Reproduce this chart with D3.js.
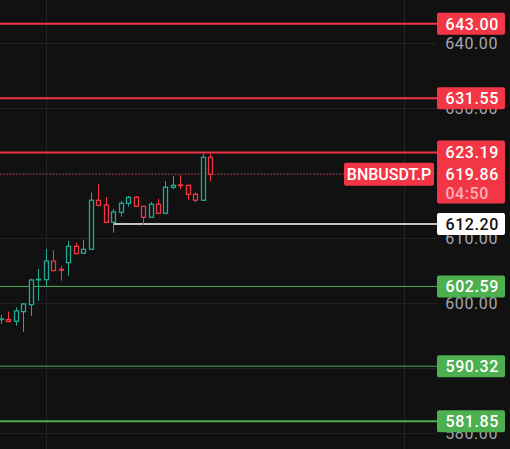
<!DOCTYPE html>
<html>
<head>
<meta charset="utf-8">
<script src="https://cdn.jsdelivr.net/npm/d3@7/dist/d3.min.js"></script>
<style>
html,body{margin:0;padding:0;background:#111111;}
svg{display:block;}
text{font-family:Roboto,"Noto Sans",sans-serif;}
</style>
</head>
<body>
<script>
// ---- data ----
const opens  = [597.5,597.5,597.23,598.71,599.78,603.6,603.63,606.5,605.2,606.25,608.77,607.7,608.31,615.85,615.12,612.46,614.0,615.38,616.31,614.92,613.23,615.23,613.85,617.85,618.2,618.15,616.77,615.85,622.46];
const highs  = [598.2,598.7,599.38,600.05,603.78,605.28,608.35,608.2,605.74,609.58,609.28,609.78,617.02,618.35,616.35,614.51,615.74,616.51,616.51,614.95,615.58,616.05,618.82,619.58,619.69,618.2,617.08,623.0,623.19];
const lows   = [596.8,597.1,596.55,595.6,598.05,600.35,602.55,605.0,603.48,604.25,607.54,607.54,608.3,614.92,612.31,610.86,613.32,614.86,614.9,612.09,613.2,613.8,613.8,617.54,617.54,615.85,615.54,615.8,618.77];
const closes = [597.6,597.2,598.82,599.89,603.58,603.7,606.5,605.02,605.1,608.77,607.63,608.3,615.85,615.08,612.46,614.05,615.38,616.31,614.92,613.23,615.23,613.85,617.85,618.15,618.1,616.77,615.85,622.46,619.86];

const axisTicks = [580,590,600,610,620,630,640];
const redLevels = [643.00,631.55,623.19];
const greenLevels = [602.59,590.32,581.85];
const supportLevel = 612.20;
const lastPrice = 619.86;
const symbol = "BNBUSDT.P";
const countdown = "04:50";

// ---- layout ----
const W = 510, H = 449, plotW = 437;
const BG = "#111111", UP = "#22ab94", DOWN = "#f23645", GREEN = "#4caf50";

const svg = d3.select("body").append("svg").attr("width", W).attr("height", H);
svg.append("rect").attr("width", W).attr("height", H).attr("fill", BG);

const y = d3.scaleLinear().domain([577.58, 646.66]).range([H, 0]);
const x = d3.scaleLinear().domain([0, closes.length - 1]).range([1, 210.3]);

// grid
const g = svg.append("g");
g.selectAll("line.hg").data(axisTicks).join("line")
  .attr("x1", 0).attr("x2", plotW)
  .attr("y1", d => Math.round(y(d)) + 0.5).attr("y2", d => Math.round(y(d)) + 0.5)
  .attr("stroke", "#232323").attr("stroke-width", 1);
g.selectAll("line.vg").data([46, 404]).join("line")
  .attr("x1", d => d + 0.5).attr("x2", d => d + 0.5).attr("y1", 0).attr("y2", H)
  .attr("stroke", "#232323").attr("stroke-width", 1);

// axis tick labels
const yAxis = d3.axisRight(y).tickValues(axisTicks).tickFormat(d3.format(".2f")).tickSize(0);
const ax = svg.append("g").attr("transform", `translate(${plotW},0)`).call(yAxis);
ax.select(".domain").remove();
ax.selectAll("text").attr("x", 61).attr("text-anchor", "end")
  .attr("fill", "#a4a7ae").attr("font-size", 16).attr("letter-spacing", 0.6).attr("dy", "0.35em");

// level lines
svg.selectAll("line.red").data(redLevels).join("line")
  .attr("x1", 0).attr("x2", plotW).attr("y1", d => y(d)).attr("y2", d => y(d))
  .attr("stroke", DOWN).attr("stroke-width", 2);
svg.selectAll("line.green").data(greenLevels).join("line")
  .attr("x1", 0).attr("x2", plotW).attr("y1", d => y(d)).attr("y2", d => y(d))
  .attr("stroke", GREEN).attr("stroke-width", (d, i) => i === 2 ? 2 : 1);
svg.append("line").attr("x1", x(15)).attr("x2", plotW)
  .attr("y1", y(supportLevel)).attr("y2", y(supportLevel))
  .attr("stroke", "#ffffff").attr("stroke-width", 1.5);
svg.append("line").attr("x1", 0).attr("x2", 344)
  .attr("y1", Math.round(y(lastPrice)) + 0.5).attr("y2", Math.round(y(lastPrice)) + 0.5)
  .attr("stroke", DOWN).attr("stroke-width", 1).attr("stroke-dasharray", "1,2.3");

// candles
const cg = svg.append("g");
const idx = d3.range(closes.length);
cg.selectAll("line.wick").data(idx).join("line")
  .attr("x1", i => Math.round(x(i)) + 0.5).attr("x2", i => Math.round(x(i)) + 0.5)
  .attr("y1", i => y(highs[i])).attr("y2", i => y(lows[i]))
  .attr("stroke", i => closes[i] >= opens[i] ? UP : DOWN).attr("stroke-width", 1);
cg.selectAll("rect.body").data(idx).join("rect")
  .attr("x", i => Math.round(x(i)) - 2 + 0.5)
  .attr("width", 4)
  .attr("y", i => y(Math.max(opens[i], closes[i])))
  .attr("height", i => Math.max(0.5, Math.abs(y(opens[i]) - y(closes[i]))))
  .attr("fill", BG)
  .attr("stroke", i => closes[i] >= opens[i] ? UP : DOWN).attr("stroke-width", 1.3);

// price labels
const boxX = 437, boxW = 68, boxH = 22;
function numText(xp, yp, fg, txt) {
  svg.append("text").attr("x", xp).attr("y", yp).attr("dy", "0.36em").attr("text-anchor", "end")
    .attr("fill", fg).attr("font-size", 16).attr("font-weight", 500).attr("letter-spacing", 0.6).text(txt);
}
function label(val, bg, fg) {
  const cy = y(val);
  svg.append("rect").attr("x", boxX).attr("y", cy - boxH / 2).attr("width", boxW).attr("height", boxH)
    .attr("rx", 2).attr("fill", bg);
  numText(499, cy, fg, d3.format(".2f")(val));
}
redLevels.slice(0, 2).forEach(v => label(v, DOWN, "#ffffff"));
// combined red box for 623.19 / last price / countdown
svg.append("rect").attr("x", boxX).attr("y", y(redLevels[2]) - 12).attr("width", boxW)
  .attr("height", 63).attr("rx", 2).attr("fill", DOWN);
numText(499, y(redLevels[2]), "#ffffff", d3.format(".2f")(redLevels[2]));
numText(499, y(lastPrice), "#ffffff", d3.format(".2f")(lastPrice));
numText(489, y(lastPrice) + 19.5, "#fbb0b7", countdown);
label(supportLevel, "#ffffff", "#111111");
greenLevels.forEach(v => label(v, GREEN, "#ffffff"));

// symbol label
svg.append("rect").attr("x", 344).attr("y", y(lastPrice) - 11.5).attr("width", 90).attr("height", 23)
  .attr("rx", 2).attr("fill", DOWN);
svg.append("text").attr("x", 389).attr("y", y(lastPrice)).attr("dy", "0.36em").attr("text-anchor", "middle")
  .attr("fill", "#ffffff").attr("font-size", 16).attr("font-weight", 500).text(symbol);
</script>
</body>
</html>
